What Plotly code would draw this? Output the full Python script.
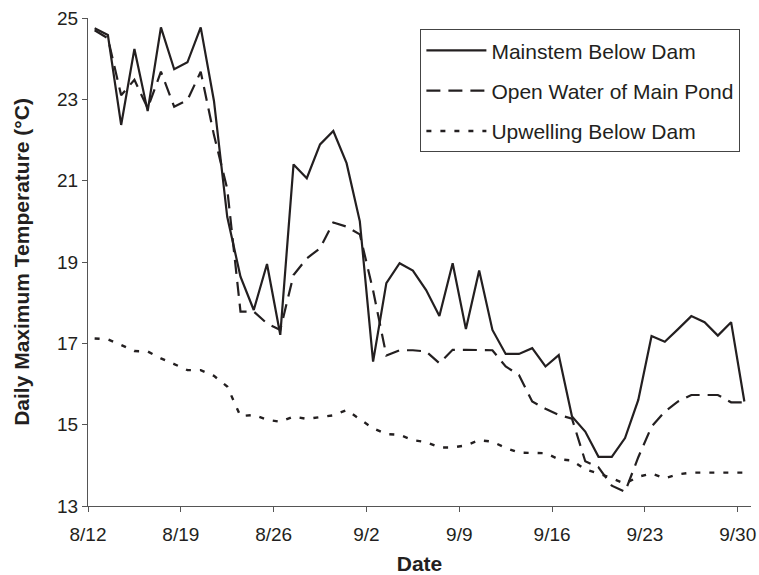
import pandas as pd
import plotly.graph_objects as go

start_date = "2010-08-12"
n_days = 50
dates = pd.date_range(start_date, periods=n_days, freq="D") + pd.Timedelta(hours=12)

series_names = ["Mainstem Below Dam", "Open Water of Main Pond", "Upwelling Below Dam"]

mainstem = [24.75, 24.58, 22.37, 24.24, 22.71, 24.77, 23.74, 23.91, 24.77, 22.96,
            20.11, 18.64, 17.82, 18.95, 17.21, 21.40, 21.06, 21.89, 22.22, 21.43,
            20.00, 16.55, 18.48, 18.97, 18.79, 18.31, 17.67, 18.97, 17.35, 18.79,
            17.33, 16.74, 16.74, 16.88, 16.43, 16.71, 15.20, 14.83, 14.21, 14.21,
            14.67, 15.61, 17.18, 17.04, 17.35, 17.67, 17.52, 17.19, 17.52, 15.57]

open_water = [24.70, 24.50, 23.10, 23.48, 22.78, 23.68, 22.82, 22.98, 23.68, 22.12,
              20.80, 17.78, 17.78, 17.49, 17.33, 18.68, 19.09, 19.34, 19.97, 19.87,
              19.68, 18.30, 16.70, 16.83, 16.83, 16.80, 16.51, 16.84, 16.84, 16.84,
              16.83, 16.43, 16.22, 15.57, 15.39, 15.24, 15.15, 14.10, 13.95, 13.50,
              13.35, 14.20, 14.95, 15.32, 15.57, 15.73, 15.73, 15.73, 15.55, 15.55]

upwelling = [17.12, 17.10, 16.96, 16.81, 16.80, 16.63, 16.49, 16.34, 16.34, 16.20,
             15.94, 15.21, 15.24, 15.12, 15.07, 15.20, 15.14, 15.18, 15.23, 15.36,
             15.13, 14.91, 14.77, 14.75, 14.62, 14.57, 14.44, 14.44, 14.49, 14.62,
             14.58, 14.43, 14.31, 14.31, 14.30, 14.15, 14.12, 13.90, 13.80, 13.68,
             13.55, 13.72, 13.80, 13.68, 13.78, 13.82, 13.82, 13.82, 13.82, 13.82]

y_ticks = [13, 15, 17, 19, 21, 23, 25]

FONT = "Liberation Sans, Arial, sans-serif"
INK = "#231f20"

fig = go.Figure()
styles = [dict(dash="solid", width=2.2),
          dict(dash="14px,8px", width=2.2),
          dict(dash="5px,9px", width=2.4)]
for name, vals, st, grp in zip(series_names, [mainstem, open_water, upwelling], styles, ["a", "b", "c"]):
    fig.add_trace(go.Scatter(x=dates, y=vals, mode="lines", name=name, legendgroup=grp,
                             line=dict(color=INK, **st)))

fig.update_layout(
    width=759, height=575,
    margin=dict(l=88, r=8, t=18, b=69),
    paper_bgcolor="white", plot_bgcolor="white",
    font=dict(family=FONT, color=INK, size=19),
    showlegend=True,
    legend=dict(x=0.984, y=0.977, xanchor="right", yanchor="top",
                bordercolor="#444", borderwidth=1, bgcolor="white",
                font=dict(family=FONT, size=21, color=INK),
                tracegroupgap=10, itemwidth=60),
    xaxis=dict(type="date", range=["2010-08-12", "2010-10-01"], automargin=False,
               tick0="2010-08-12", dtick=7 * 86400000, tickformat="%-m/%-d",
               showgrid=False, zeroline=False, showline=True, linecolor="#555", linewidth=1.2,
               ticks="outside", ticklen=5, tickcolor="#555",
               ticklabelstandoff=6,
               tickfont=dict(family=FONT, size=19, color=INK),
               title=dict(text="<b>Date</b>", font=dict(family=FONT, size=21, color=INK), standoff=22)),
    yaxis=dict(range=[13, 25], tickvals=y_ticks, automargin=False,
               showgrid=False, zeroline=False, showline=True, linecolor="#555", linewidth=1.2,
               ticks="outside", ticklen=5, tickcolor="#555",
               tickfont=dict(family=FONT, size=19, color=INK),
               title=dict(text="<b>Daily Maximum Temperature (°C)</b>",
                          font=dict(family=FONT, size=21, color=INK), standoff=21)),
)

fig.write_html("out.html", config={"displayModeBar": False},
               post_script="document.body.style.margin='0px';document.body.style.overflow='hidden';")
